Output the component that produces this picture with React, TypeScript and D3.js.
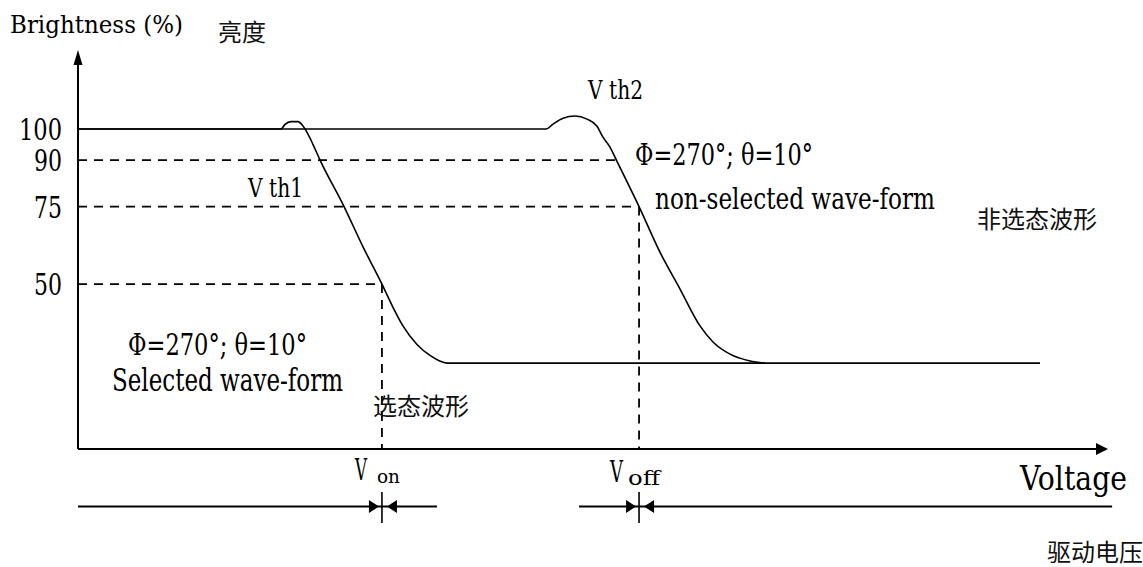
import React from "react";
import * as d3 from "d3";

// ---- data (voltage in arbitrary units, brightness in %) ----
const yTicks = [100, 90, 75, 50];
const selectedV = [0, 1.971, 2.01, 2.068, 2.136, 2.184, 2.214, 2.282, 2.35, 2.583, 2.767, 2.951, 3.058, 3.155, 3.291, 3.417, 3.583, 9.34];
const selectedB = [100, 100, 101.5, 102.4, 102.4, 101, 99.5, 95, 90, 75, 62, 50, 42.5, 36.5, 30.5, 27, 24.5, 24.5];
const nonSelectedV = [0, 4.544, 4.612, 4.709, 4.825, 4.942, 5.039, 5.097, 5.165, 5.227, 5.447, 5.65, 5.845, 6.039, 6.165, 6.33, 6.524, 6.67];
const nonSelectedB = [100, 100, 101.6, 103.5, 104.2, 103.2, 100.9, 97.4, 94.2, 90, 75, 60.3, 48.4, 36.5, 31.3, 27.4, 25.2, 24.5];
const guideLevels = [90, 75, 50];
const guideEnds = [5.227, 5.447, 2.951];
const vOn = 2.951;
const vOff = 5.447;
const driveStarts = [0, 4.864];
const driveEnds = [3.485, 10.04];

const W = 1143;
const H = 567;
const SERIF = "'DejaVu Serif', 'Liberation Serif', serif";
const CJK = "'Noto Sans CJK SC', sans-serif";

function T(props: { x: number; y: number; size: number; len?: number; anchor?: string; family?: string; children: React.ReactNode; fill?: string }) {
  const { x, y, size, len, anchor, family, children, fill } = props;
  return (
    <text
      x={x}
      y={y}
      fontSize={size}
      fontFamily={family || SERIF}
      textAnchor={anchor || "start"}
      fill={fill || "#000"}
      {...(len ? { textLength: len, lengthAdjust: "spacingAndGlyphs" } : {})}
    >
      {children}
    </text>
  );
}

export default function App() {
  const x = d3.scaleLinear().domain([0, 10]).range([78, 1108]);
  const y = d3.scaleLinear().domain([-3.2, 125.5]).range([449, 50]);
  const line = d3
    .line<[number, number]>()
    .x((d) => x(d[0]))
    .y((d) => y(d[1]))
    .curve(d3.curveMonotoneX);
  const sel = selectedV.map((v, i) => [v, selectedB[i]] as [number, number]);
  const non = nonSelectedV.map((v, i) => [v, nonSelectedB[i]] as [number, number]);
  const x0 = x(0);
  const yBase = y(-3.2);
  const yTop = y(125.5);
  const xEnd = x(10);
  const driveY = 506.5;

  const marker = (v: number) => {
    const cx = x(v);
    return (
      <g key={v}>
        <line x1={cx} x2={cx} y1={492} y2={523} stroke="#000" strokeWidth={1.6} />
        <polygon points={`${cx - 3},${driveY} ${cx - 13},${driveY - 6.5} ${cx - 13},${driveY + 6.5}`} fill="#000" />
        <polygon points={`${cx + 5},${driveY} ${cx + 15},${driveY - 6.5} ${cx + 15},${driveY + 6.5}`} fill="#000" />
      </g>
    );
  };

  return (
    <svg width={W} height={H} style={{ position: "absolute", left: 0, top: 0, background: "#fff" }}>
      <rect width={W} height={H} fill="#fff" />
      {/* guide dashed lines */}
      {guideLevels.map((b, i) => (
        <line key={b} x1={x0} x2={x(guideEnds[i])} y1={y(b)} y2={y(b)} stroke="#000" strokeWidth={1.8} strokeDasharray="9,7" />
      ))}
      <line x1={x(vOn)} x2={x(vOn)} y1={y(50)} y2={yBase} stroke="#000" strokeWidth={1.8} strokeDasharray="9,7" />
      <line x1={x(vOff)} x2={x(vOff)} y1={y(75)} y2={yBase} stroke="#000" strokeWidth={1.8} strokeDasharray="9,7" />

      {/* curves */}
      <path d={line(non) || ""} fill="none" stroke="#000" strokeWidth={1.6} />
      <path d={line(sel) || ""} fill="none" stroke="#000" strokeWidth={1.6} />

      {/* axes */}
      <line x1={x0} x2={x0} y1={yBase} y2={yTop + 10} stroke="#000" strokeWidth={2} />
      <polygon points={`${x0},${yTop} ${x0 - 4.5},${yTop + 15} ${x0 + 4.5},${yTop + 15}`} fill="#000" />
      <line x1={x0} x2={xEnd - 8} y1={yBase} y2={yBase} stroke="#000" strokeWidth={2} />
      <polygon points={`${xEnd},${yBase} ${xEnd - 12},${yBase - 6} ${xEnd - 12},${yBase + 6}`} fill="#000" />

      {/* y tick labels */}
      {yTicks.map((t) => (
        <T key={t} x={62} y={y(t) + 11} size={30} len={String(t).length === 3 ? 43 : 28} anchor="end">
          {t}
        </T>
      ))}

      {/* drive voltage lines */}
      {driveStarts.map((s, i) => (
        <line key={s} x1={x(s)} x2={x(driveEnds[i])} y1={driveY} y2={driveY} stroke="#000" strokeWidth={2} />
      ))}
      {marker(vOn)}
      {marker(vOff)}

      {/* texts */}
      <T x={10} y={33} size={25} len={173}>Brightness (%)</T>
      <T x={218} y={41} size={24} family={CJK} fill="#111">亮度</T>
      <T x={248} y={197} size={26} len={55}>V th1</T>
      <T x={588} y={99} size={26} len={55}>V th2</T>
      <T x={635} y={165} size={30} len={178}>Φ=270°; θ=10°</T>
      <T x={655} y={209} size={30} len={280}>non-selected wave-form</T>
      <T x={977} y={228} size={24} family={CJK} fill="#111">非选态波形</T>
      <T x={128} y={355} size={30} len={179}>Φ=270°; θ=10°</T>
      <T x={112} y={391} size={31} len={231}>Selected wave-form</T>
      <T x={373} y={415} size={24} family={CJK} fill="#111">选态波形</T>
      <T x={355} y={480} size={30} len={12}>V</T>
      <T x={377} y={483} size={19} len={23}>on</T>
      <T x={610} y={482} size={30} len={13}>V</T>
      <T x={628} y={485} size={21} len={32}>off</T>
      <T x={1020} y={490} size={34} len={107}>Voltage</T>
      <T x={1047} y={561} size={24} family={CJK} fill="#111">驱动电压</T>
    </svg>
  );
}
